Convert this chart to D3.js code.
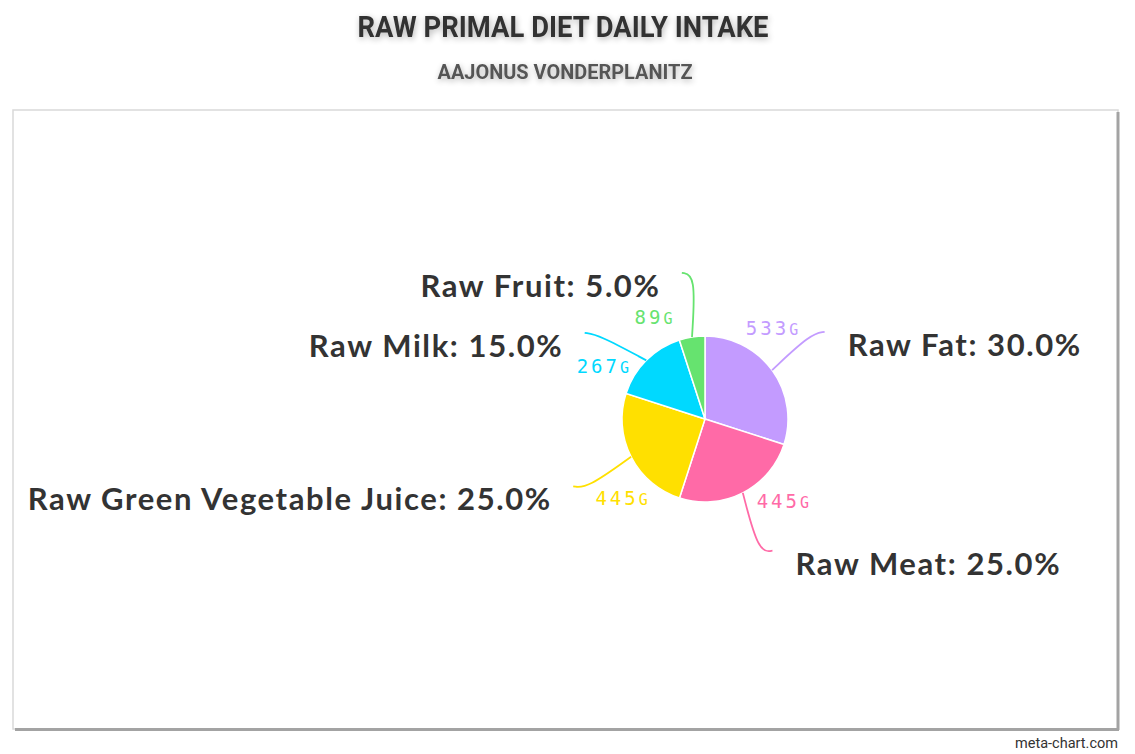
<!DOCTYPE html>
<html>
<head>
<meta charset="utf-8">
<script src="https://cdn.jsdelivr.net/npm/d3@7/dist/d3.min.js"></script>
<style>
  html, body { margin: 0; padding: 0; background: #fff; }
  svg { display: block; }
</style>
</head>
<body>
<svg id="chart" width="1135" height="754"></svg>
<script>
// ---- data ----
const title = "RAW PRIMAL DIET DAILY INTAKE";
const subtitle = "AAJONUS VONDERPLANITZ";
const categories = ["Raw Fat", "Raw Meat", "Raw Green Vegetable Juice", "Raw Milk", "Raw Fruit"];
const grams = [533, 445, 445, 267, 89];
const unit = "g";
const colors = ["#c39bff", "#ff6aa7", "#ffe000", "#00d9ff", "#66e36f"];
const credit = "meta-chart.com";

// ---- layout ----
const svg = d3.select("#chart");
const cx = 705, cy = 419, R = 83, lineR = 148, valR = 114;

const defs = svg.append("defs");
const f = defs.append("filter").attr("id", "glow").attr("x", "-10%").attr("y", "-50%").attr("width", "120%").attr("height", "200%");
f.append("feGaussianBlur").attr("in", "SourceAlpha").attr("stdDeviation", 3).attr("result", "b");
f.append("feOffset").attr("in", "b").attr("dx", 1).attr("dy", 2).attr("result", "o");
f.append("feComponentTransfer").attr("in", "o").attr("result", "c")
  .append("feFuncA").attr("type", "linear").attr("slope", 0.3);
const fm = f.append("feMerge");
fm.append("feMergeNode").attr("in", "c");
fm.append("feMergeNode").attr("in", "SourceGraphic");

// frame
svg.append("rect").attr("x", 13).attr("y", 110).attr("width", 1105).attr("height", 619)
  .attr("fill", "#fff").attr("stroke", "#d9d9d9").attr("stroke-width", 1.5);
svg.append("line").attr("x1", 1118).attr("x2", 1118).attr("y1", 112).attr("y2", 730)
  .attr("stroke", "#a3a3a3").attr("stroke-width", 3);
svg.append("line").attr("x1", 15).attr("x2", 1119).attr("y1", 729.5).attr("y2", 729.5)
  .attr("stroke", "#a3a3a3").attr("stroke-width", 3);

// titles
svg.append("text").attr("x", 563).attr("y", 37).attr("text-anchor", "middle")
  .attr("font-family", "Roboto, 'DejaVu Sans'").attr("font-weight", 700).attr("font-size", 30)
  .attr("fill", "#333").attr("filter", "url(#glow)")
  .attr("textLength", 411).attr("lengthAdjust", "spacingAndGlyphs")
  .text(title);
svg.append("text").attr("x", 565).attr("y", 79).attr("text-anchor", "middle")
  .attr("font-family", "Roboto, 'DejaVu Sans'").attr("font-weight", 700).attr("font-size", 21)
  .attr("fill", "#555").attr("filter", "url(#glow)")
  .attr("textLength", 255).attr("lengthAdjust", "spacingAndGlyphs")
  .text(subtitle);

// credit
svg.append("text").attr("x", 1118).attr("y", 748).attr("text-anchor", "end")
  .attr("font-family", "Roboto, 'DejaVu Sans'").attr("font-size", 15).attr("fill", "#333")
  .attr("textLength", 103).attr("lengthAdjust", "spacingAndGlyphs")
  .text(credit);

// pie
const data = categories.map((c, i) => ({ name: c, value: grams[i], color: colors[i] }));
const total = d3.sum(grams);
const pie = d3.pie().value(d => d.value).sort(null);
const arcs = pie(data);
const arc = d3.arc().innerRadius(0).outerRadius(R);

const g = svg.append("g").attr("transform", `translate(${cx},${cy})`);
g.selectAll("path.slice").data(arcs).join("path")
  .attr("class", "slice")
  .attr("d", arc)
  .attr("fill", d => d.data.color)
  .attr("stroke", "#fff").attr("stroke-width", 1.5);

// label geometry
const pt = (ang, r) => [Math.sin(ang) * r, -Math.cos(ang) * r];
const items = arcs.map(a => {
  const mid = (a.startAngle + a.endAngle) / 2;
  const side = mid < Math.PI ? 1 : -1;
  const start = pt(mid, R);
  const end = pt(mid, lineR);
  return { a, mid, side, start, end };
});
// simple collision avoidance per side
[1, -1].forEach(s => {
  const list = items.filter(d => d.side === s).sort((p, q) => p.end[1] - q.end[1]);
  for (let i = 1; i < list.length; i++) {
    const prev = list[i - 1], cur = list[i];
    if (cur.end[1] - prev.end[1] < 60) {
      const y = prev.end[1] + 60;
      const x = Math.sqrt(Math.max(0, lineR * lineR - y * y)) * s;
      cur.end = [x, y];
    }
  }
});

const line = d3.line().curve(d3.curveBasis);
g.selectAll("path.lead").data(items).join("path")
  .attr("class", "lead")
  .attr("fill", "none")
  .attr("stroke", d => d.a.data.color)
  .attr("stroke-width", 1.8)
  .attr("d", d => {
    const m = [d.end[0] - d.side * 14, d.end[1] + 2];
    return line([d.start, m, d.end]);
  });

// main labels
const pctFmt = d3.format(".1f");
const LS = 1.6;
g.selectAll("text.main").data(items).join("text")
  .attr("class", "main")
  .attr("x", d => d.end[0] + d.side * 23 + (d.side < 0 ? LS : 0))
  .attr("y", d => d.end[1] + 24)
  .attr("text-anchor", d => d.side > 0 ? "start" : "end")
  .attr("font-family", "Lato, 'Open Sans', sans-serif")
  .attr("font-weight", 700)
  .attr("font-size", 31)
  .attr("letter-spacing", LS)
  .attr("fill", "#333")
  .text(d => `${d.a.data.name}: ${pctFmt(d.a.value / total * 100)}%`);

// value labels
const off = 17 * Math.PI / 180;
const vt = g.selectAll("text.val").data(items).join("text")
  .attr("class", "val")
  .attr("x", d => pt(d.mid - off, valR)[0])
  .attr("y", d => pt(d.mid - off, valR)[1] + 7)
  .attr("text-anchor", "middle")
  .attr("font-family", "'DejaVu Sans Mono', monospace")
  .attr("font-size", 19)
  .attr("letter-spacing", 3)
  .attr("fill", d => d.a.data.color);
vt.append("tspan").text(d => d.a.data.value);
vt.append("tspan").attr("font-size", 15).text(unit.toUpperCase());
</script>
</body>
</html>
